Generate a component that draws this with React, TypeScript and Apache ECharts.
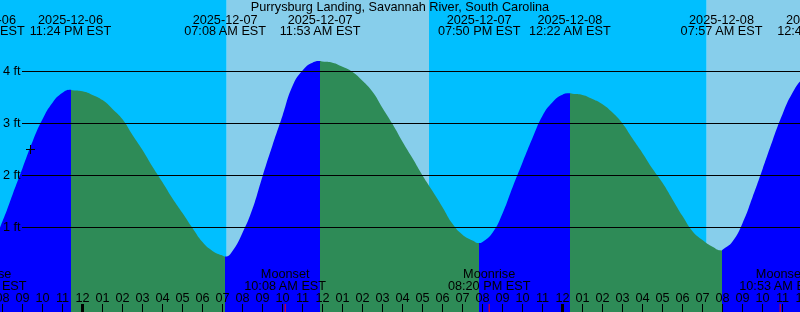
import React, { useEffect, useRef } from "react";
import * as echarts from "echarts";

const TITLE = "Purrysburg Landing, Savannah River, South Carolina";

// Hours relative to 2025-12-07 00:00 EST, water level in feet
const tideHours = [
  -6.0, -5.5, -4.97, -4.5, -4.0, -3.5, -3.0, -2.5, -2.0, -1.5, -1.0, -0.6,
  -0.5, 0.0, 0.5, 1.0, 1.5, 2.0, 2.5, 3.0, 3.5, 4.0, 4.5, 5.0, 5.5, 6.0, 6.5, 7.0, 7.133,
  7.5, 8.0, 8.5, 9.0, 9.5, 10.0, 10.5, 11.0, 11.5, 11.883,
  12.0, 12.5, 13.0, 13.5, 14.0, 14.5, 15.0, 15.5, 16.0, 16.5, 17.0, 17.5, 18.0, 18.5, 19.0, 19.5, 19.833,
  20.0, 20.5, 21.0, 21.5, 22.0, 22.5, 23.0, 23.5, 24.0, 24.367,
  24.5, 25.0, 25.5, 26.0, 26.5, 27.0, 27.5, 28.0, 28.5, 29.0, 29.5, 30.0, 30.5, 31.0, 31.5, 31.95,
  32.0, 32.5, 33.0, 33.5, 34.0, 34.5, 35.0, 35.5, 36.0, 36.5, 36.8, 37.5,
];
const tideFeet = [
  0.75, 0.62, 0.55, 0.72, 1.12, 1.63, 2.14, 2.65, 3.08, 3.4, 3.59, 3.65,
  3.64, 3.62, 3.55, 3.45, 3.28, 3.08, 2.78, 2.49, 2.17, 1.87, 1.56, 1.28, 0.99, 0.72, 0.55, 0.46, 0.44,
  0.55, 0.9, 1.36, 1.98, 2.58, 3.15, 3.72, 4.02, 4.17, 4.2,
  4.19, 4.17, 4.09, 3.99, 3.82, 3.61, 3.3, 2.99, 2.65, 2.33, 2.0, 1.7, 1.39, 1.07, 0.86, 0.75, 0.7,
  0.72, 0.9, 1.27, 1.77, 2.25, 2.72, 3.15, 3.41, 3.555, 3.58,
  3.57, 3.55, 3.47, 3.37, 3.21, 3.0, 2.71, 2.43, 2.13, 1.86, 1.54, 1.22, 0.93, 0.76, 0.63, 0.56,
  0.57, 0.73, 1.08, 1.58, 2.12, 2.67, 3.18, 3.59, 3.86, 4.0, 4.02, 3.95,
];

const tideEventHours = [-4.95, -0.6, 7.133, 11.883, 19.833, 24.367, 31.95, 36.8];
const tideEventDates = [
  "2025-12-06", "2025-12-06", "2025-12-07", "2025-12-07",
  "2025-12-07", "2025-12-08", "2025-12-08", "2025-12-08",
];
const tideEventTimes = [
  "07:03 PM EST", "11:24 PM EST", "07:08 AM EST", "11:53 AM EST",
  "07:50 PM EST", "12:22 AM EST", "07:57 AM EST", "12:48 PM EST",
];

const moonEventHours = [-4.86, 10.133, 20.333, 34.883];
const moonEventNames = ["Moonrise", "Moonset", "Moonrise", "Moonset"];
const moonEventTimes = ["07:09 PM EST", "10:08 AM EST", "08:20 PM EST", "10:53 AM EST"];

const sunriseHours = [7.21, 31.21];
const sunsetHours = [17.325];

const hourTicks = [
  -5, -4, -3, -2, -1, 0, 1, 2, 3, 4, 5, 6, 7, 8, 9, 10, 11, 12, 13, 14, 15, 16, 17,
  18, 19, 20, 21, 22, 23, 24, 25, 26, 27, 28, 29, 30, 31, 32, 33, 34, 35, 36,
];
const midnightHours = [0, 24];
const depthLines = [1, 2, 3, 4];
const nowHour = [-2.61];
const nowFeet = [2.51];

const X_MIN = -4.125;
const X_MAX = 35.875;
const Y_MIN = -0.625;
const Y_MAX = 5.375;

const RISE = "#0000FF";
const FALL = "#2E8B57";
const DAY = "#87CEEB";
const NIGHT = "#00BFFF";
const FONT = '12.7px "Liberation Sans", Arial, sans-serif';

function txt(text: string, x: number, y: number, align = "center") {
  return {
    type: "text",
    style: {
      text,
      x,
      y,
      font: FONT,
      fill: "#000",
      align,
      verticalAlign: "middle",
      textAlign: align,
      textVerticalAlign: "middle",
    },
  };
}

function hourLabel(h: number) {
  const hr = ((h % 24) + 24) % 24;
  const h12 = hr % 12 === 0 ? 12 : hr % 12;
  return (h12 < 10 ? "0" : "") + h12;
}

export default function App() {
  const ref = useRef<HTMLDivElement>(null);

  useEffect(() => {
    if (!ref.current) return;
    const chart = echarts.init(ref.current, undefined, { renderer: "svg" });

    // day/night bands
    const sunEvents = [
      ...sunriseHours.map((h) => ({ h, day: 1 })),
      ...sunsetHours.map((h) => ({ h, day: 0 })),
    ].sort((a, b) => a.h - b.h);
    const bands: number[][] = [];
    let start = X_MIN - 5;
    let isDay = sunEvents.length ? 1 - sunEvents[0].day : 0;
    for (const e of sunEvents) {
      bands.push([start, e.h, isDay]);
      start = e.h;
      isDay = e.day;
    }
    bands.push([start, X_MAX + 5, isDay]);

    // rising/falling pieces split at extremes
    const extremes: number[] = [];
    for (let i = 1; i < tideHours.length - 1; i++) {
      const a = tideFeet[i] - tideFeet[i - 1];
      const b = tideFeet[i + 1] - tideFeet[i];
      if (a * b < 0) extremes.push(tideHours[i]);
    }
    let rising = tideFeet[1] > tideFeet[0];
    const pieces: any[] = [];
    let prev: number | null = null;
    for (const ex of extremes) {
      const p: any = { lt: ex, color: rising ? RISE : FALL };
      if (prev !== null) p.gte = prev;
      pieces.push(p);
      prev = ex;
      rising = !rising;
    }
    pieces.push({ gte: prev, color: rising ? RISE : FALL });

    const option: any = {
      animation: false,
      grid: { left: 0, right: 0, top: 0, bottom: 0 },
      xAxis: { type: "value", min: X_MIN, max: X_MAX, show: false },
      yAxis: { type: "value", min: Y_MIN, max: Y_MAX, show: false },
      visualMap: {
        type: "piecewise",
        show: false,
        dimension: 0,
        seriesIndex: 1,
        pieces,
      },
      graphic: [{ ...txt(TITLE, 400, 6.8), z: 10 }],
      series: [
        {
          type: "custom",
          z: 0,
          data: bands,
          renderItem: (params: any, api: any) => {
            const x0 = api.coord([api.value(0), 0])[0];
            const x1 = api.coord([api.value(1), 0])[0];
            const cs = params.coordSys;
            return {
              type: "rect",
              shape: { x: x0, y: cs.y, width: x1 - x0, height: cs.height },
              style: { fill: api.value(2) ? DAY : NIGHT },
            };
          },
        },
        {
          type: "line",
          z: 2,
          data: tideHours.map((h, i) => [h, tideFeet[i]]),
          smooth: 0.5,
          showSymbol: false,
          symbol: "none",
          lineStyle: { width: 0 },
          areaStyle: { opacity: 1, origin: "start" },
        },
        {
          type: "custom",
          z: 3,
          data: depthLines.map((v) => [0, v]),
          renderItem: (params: any, api: any) => {
            const v = api.value(1);
            const y = Math.round(api.coord([0, v])[1] - 0.5) + 0.5;
            return {
              type: "group",
              children: [
                { type: "line", shape: { x1: 22, y1: y, x2: 800, y2: y }, style: { stroke: "#000", lineWidth: 1 } },
                txt(`${v} ft`, 3, y - 0.5, "left"),
              ],
            };
          },
        },
        {
          type: "custom",
          z: 4,
          data: hourTicks.map((h) => [h, 0]),
          renderItem: (params: any, api: any) => {
            const h = api.value(0);
            const x = api.coord([h, 0])[0];
            return {
              type: "group",
              children: [
                { type: "line", shape: { x1: x, y1: 304, x2: x, y2: 312 }, style: { stroke: "#000", lineWidth: 1 } },
                txt(hourLabel(h), x, 297.5),
              ],
            };
          },
        },
        {
          type: "custom",
          z: 4,
          data: midnightHours.map((h) => [h, 0]),
          renderItem: (params: any, api: any) => {
            const x = api.coord([api.value(0), 0])[0];
            return {
              type: "rect",
              shape: { x: x - 1.5, y: 304, width: 3, height: 8 },
              style: { fill: "#000" },
            };
          },
        },
        {
          type: "custom",
          z: 4,
          data: moonEventHours.map((h, i) => [h, i]),
          renderItem: (params: any, api: any) => {
            const i = api.value(1);
            const x = api.coord([api.value(0), 0])[0];
            return {
              type: "group",
              children: [
                { type: "line", shape: { x1: x, y1: 304, x2: x, y2: 312 }, style: { stroke: "#FF0000", lineWidth: 1 } },
                txt(moonEventNames[i], x, 274.2),
                txt(moonEventTimes[i], x, 285.8),
              ],
            };
          },
        },
        {
          type: "custom",
          z: 4,
          data: tideEventHours.map((h, i) => [h, i]),
          renderItem: (params: any, api: any) => {
            const i = api.value(1);
            const x = api.coord([api.value(0), 0])[0];
            return {
              type: "group",
              children: [txt(tideEventDates[i], x, 19.5), txt(tideEventTimes[i], x, 31.3)],
            };
          },
        },
        {
          type: "custom",
          z: 5,
          data: nowHour.map((h, i) => [h, nowFeet[i]]),
          renderItem: (params: any, api: any) => {
            const p = api.coord([api.value(0), api.value(1)]);
            const cx = Math.round(p[0]) + 0.5;
            const cy = Math.round(p[1]) + 0.5;
            return {
              type: "group",
              children: [
                { type: "line", shape: { x1: cx - 4.5, y1: cy, x2: cx + 4.5, y2: cy }, style: { stroke: "#000", lineWidth: 1 } },
                { type: "line", shape: { x1: cx, y1: cy - 4.5, x2: cx, y2: cy + 4.5 }, style: { stroke: "#000", lineWidth: 1 } },
              ],
            };
          },
        },
      ],
    };

    chart.setOption(option);
    return () => chart.dispose();
  }, []);

  return (
    <div
      ref={ref}
      style={{ position: "fixed", left: 0, top: 0, width: 800, height: 312 }}
    />
  );
}
